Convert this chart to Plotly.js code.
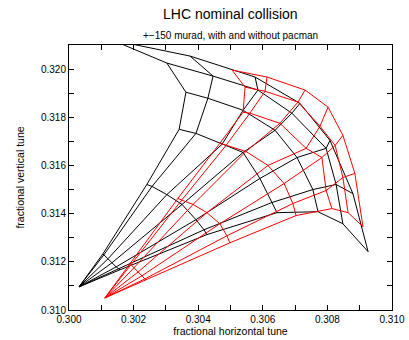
<!DOCTYPE html>
<html><head><meta charset="utf-8">
<script src="https://cdn.plot.ly/plotly-3.0.1.min.js"></script>
<style>body{margin:0;background:#fff}#chart{width:409px;height:340px}</style>
</head><body><div id="chart"></div>
<script>
// Tune footprints: rows = amplitude level (0..6), columns = angle (0 = horizontal ... 6 = vertical)
const blackQx = [
  [0.30031,0.30031,0.30031,0.30031,0.30031,0.30031,0.30031],
  [0.30158,0.30155,0.30146,0.30133,0.30121,0.30108,0.30105],
  [0.30427,0.30418,0.30393,0.30350,0.30303,0.30257,0.30241],
  [0.30644,0.30628,0.30591,0.30539,0.30474,0.30393,0.30341],
  [0.30771,0.30755,0.30706,0.30638,0.30539,0.30430,0.30362],
  [0.30848,0.30827,0.30796,0.30690,0.30585,0.30446,0.30303],
  [0.30926,0.30879,0.30808,0.30715,0.30576,0.30375,0.30133]
];
const blackQy = [
  [0.31096,0.31096,0.31096,0.31096,0.31096,0.31096,0.31096],
  [0.31167,0.31171,0.31179,0.31196,0.31213,0.31229,0.31233],
  [0.31313,0.31333,0.31375,0.31438,0.31479,0.31513,0.31521],
  [0.31404,0.31446,0.31546,0.31654,0.31688,0.31733,0.31750],
  [0.31408,0.31500,0.31633,0.31746,0.31829,0.31879,0.31904],
  [0.31358,0.31521,0.31671,0.31817,0.31913,0.31971,0.32025],
  [0.31242,0.31483,0.31704,0.31858,0.31967,0.32054,0.32121]
];
const redQx = [
  [0.30111,0.30111,0.30111,0.30111,0.30111,0.30111,0.30111],
  [0.30238,0.30235,0.30226,0.30214,0.30201,0.30192,0.30189],
  [0.30498,0.30489,0.30467,0.30427,0.30384,0.30350,0.30337],
  [0.30703,0.30693,0.30666,0.30616,0.30548,0.30486,0.30467],
  [0.30814,0.30796,0.30783,0.30734,0.30653,0.30560,0.30539],
  [0.30864,0.30848,0.30824,0.30777,0.30709,0.30607,0.30545],
  [0.30910,0.30885,0.30848,0.30802,0.30731,0.30613,0.30505]
];
const redQy = [
  [0.31050,0.31050,0.31050,0.31050,0.31050,0.31050,0.31050],
  [0.31125,0.31129,0.31142,0.31158,0.31175,0.31188,0.31192],
  [0.31279,0.31308,0.31358,0.31404,0.31438,0.31458,0.31463],
  [0.31392,0.31442,0.31525,0.31600,0.31658,0.31683,0.31692],
  [0.31421,0.31496,0.31633,0.31671,0.31775,0.31817,0.31821],
  [0.31404,0.31550,0.31683,0.31763,0.31863,0.31908,0.31925],
  [0.31346,0.31567,0.31725,0.31842,0.31913,0.31967,0.31996]
];
const xTicks = [0.300,0.302,0.304,0.306,0.308,0.310];
const yTicks = [0.310,0.312,0.314,0.316,0.318,0.320];

function gridTrace(QX, QY, color){
  const x=[], y=[];
  const nA = QX.length, nK = QX[0].length;
  for(let k=0;k<nK;k++){ for(let a=0;a<nA;a++){x.push(QX[a][k]);y.push(QY[a][k]);} x.push(null);y.push(null); }
  for(let a=1;a<nA;a++){ for(let k=0;k<nK;k++){x.push(QX[a][k]);y.push(QY[a][k]);} x.push(null);y.push(null); }
  return {x:x,y:y,type:'scatter',mode:'lines',line:{color:color,width:1},hoverinfo:'skip',showlegend:false,cliponaxis:true};
}
const traces=[gridTrace(blackQx,blackQy,'#000000'), gridTrace(redQx,redQy,'#ff0000')];
const F='"Liberation Sans", Arial, Helvetica, sans-serif';
const axisCommon={showgrid:false,zeroline:false,showline:true,linecolor:'#000',linewidth:1,mirror:'ticks',
  ticks:'inside',ticklen:5,tickcolor:'#000',tickformat:'.3f',tickfont:{family:F,size:10,color:'#000'},
  minor:{ticks:'inside',ticklen:5,tickcolor:'#000',dtick:0.001,showgrid:false}};
const layout={
  width:409,height:340,margin:{l:69,r:17,t:45,b:30},paper_bgcolor:'#fff',plot_bgcolor:'#fff',
  font:{family:F,color:'#000'},
  xaxis:Object.assign({},axisCommon,{range:[0.300,0.310],tickvals:xTicks,
    title:{text:'fractional horizontal tune',font:{family:F,size:10.5},standoff:0}}),
  yaxis:Object.assign({},axisCommon,{range:[0.310,0.321],tickvals:yTicks,
    title:{text:'fractional vertical tune',font:{family:F,size:10.5},standoff:14}}),
  annotations:[
    {text:'LHC nominal collision',xref:'paper',yref:'paper',x:0.5,y:1,yanchor:'middle',yshift:31,showarrow:false,font:{family:F,size:14}},
    {text:'+\u2212150 murad, with and without pacman',xref:'paper',yref:'paper',x:0.5,y:1,yanchor:'middle',yshift:10,showarrow:false,font:{family:F,size:10}}
  ]
};
Plotly.newPlot('chart',traces,layout,{displayModeBar:false,staticPlot:true});
</script></body></html>
